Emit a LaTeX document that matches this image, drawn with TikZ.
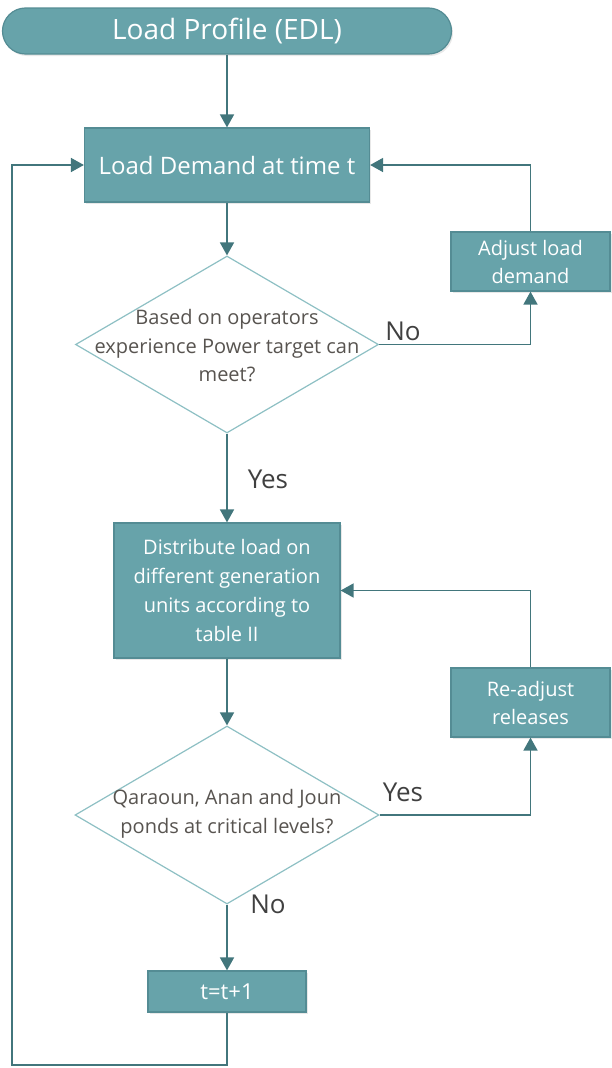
\documentclass[tikz,border=0pt]{standalone}
\usepackage{fontspec}
\setmainfont{Open Sans}
\usetikzlibrary{arrows.meta,shapes.geometric,shadows}
\definecolor{boxfill}{RGB}{103,163,170}
\definecolor{boxedge}{RGB}{84,140,148}
\definecolor{linec}{RGB}{66,118,124}
\definecolor{diaedge}{RGB}{142,192,196}
\definecolor{diatext}{RGB}{88,84,80}
\definecolor{labtext}{RGB}{64,64,64}
\tikzset{
  procbox/.style={rectangle, draw=boxedge, line width=1.2pt, fill=boxfill, text=white, inner sep=0pt, align=center,
    drop shadow={opacity=0.18, shadow xshift=1.5pt, shadow yshift=-2pt}},
  termbox/.style={procbox, rounded corners=23pt},
  decbox/.style={diamond, draw=diaedge, line width=1.2pt, fill=white, inner sep=0pt},
  dectext/.style={text=diatext, align=center, font=\fontsize{20pt}{28.5pt}\selectfont},
  lab/.style={text=labtext, font=\fontsize{26pt}{30pt}\selectfont},
  conn/.style={draw=linec, line width=1.7pt},
  arr/.style={conn, -{Triangle[length=13pt,width=14pt]}},
}
\begin{document}
\begin{tikzpicture}[x=1pt,y=-1pt]
\useasboundingbox (0,0) rectangle (611,1068);
% nodes
\node[termbox, minimum width=449pt, minimum height=46pt, font=\fontsize{28pt}{32pt}\selectfont] (term) at (227,31) {Load Profile (EDL)};
\node[procbox, minimum width=285pt, minimum height=74pt, font=\fontsize{24pt}{28pt}\selectfont] (ld) at (227,165) {Load Demand at time t};
\node[procbox, minimum width=159pt, minimum height=59pt, font=\fontsize{20pt}{28pt}\selectfont] (adj) at (530.5,261.5) {Adjust load\\demand};
\node[decbox, minimum width=303pt, minimum height=177pt] (d1) at (227,344.5) {};
\node[dectext] (d1t) at (227,346) {Based on operators\\experience Power target can\\meet?};
\node[procbox, minimum width=226pt, minimum height=135pt, font=\fontsize{20pt}{29pt}\selectfont] (dist) at (227,590.5) {Distribute load on\\different generation\\units according to\\table II};
\node[procbox, minimum width=159pt, minimum height=69pt, font=\fontsize{20pt}{28pt}\selectfont] (readj) at (530.5,702.5) {Re-adjust\\releases};
\node[decbox, minimum width=304pt, minimum height=178pt] (d2) at (227,815) {};
\node[dectext] (d2t) at (227,814) {Qaraoun, Anan and Joun\\ponds at critical levels?};
\node[procbox, minimum width=158pt, minimum height=41pt, font=\fontsize{22pt}{26pt}\selectfont] (inc) at (227,991.5) {t=t+1};
% labels
\node[lab] (lno1) at (403,331) {No};
\node[lab] (lyes1) at (268,479) {Yes};
\node[lab] (lyes2) at (403,792) {Yes};
\node[lab] (lno2) at (268,904) {No};
% loop corners
\coordinate (c1) at (227,1065);
\coordinate (c2) at (12,1065);
% connectors
\draw[arr] (term.south) -- (ld.north);
\draw[arr] (ld.south) -- (d1.north);
\draw[arr] (d1.east) -| (adj.south);
\draw[arr] (adj.north) |- (ld.east);
\draw[arr] (d1.south) -- (dist.north);
\draw[arr] (dist.south) -- (d2.north);
\draw[arr] (d2.east) -| (readj.south);
\draw[arr] (readj.north) |- (dist.east);
\draw[arr] (d2.south) -- (inc.north);
\draw[arr] (inc.south) -- (c1) -- (c2) |- (ld.west);
\end{tikzpicture}
\end{document}
